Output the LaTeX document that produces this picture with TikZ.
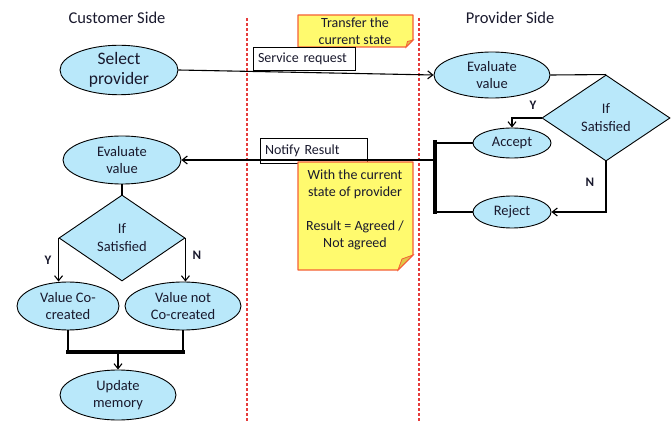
\documentclass[tikz,border=0pt]{standalone}
\usepackage{fontspec}
\setmainfont{Carlito}
\usetikzlibrary{arrows.meta,shapes.geometric,positioning}

\definecolor{procblue}{RGB}{185,232,250}
\definecolor{notefill}{RGB}{255,250,110}
\definecolor{notefold}{RGB}{225,200,70}
\definecolor{noteline}{RGB}{245,95,55}
\definecolor{lanered}{RGB}{230,60,60}
\definecolor{ink}{RGB}{25,25,45}

\begin{document}
\begin{tikzpicture}[x=1pt,y=-1pt,text=ink,
  proc/.style={ellipse,draw,line width=0.9pt,fill=procblue,inner sep=0pt,
    align=center,font=\fontsize{14.5}{17}\selectfont},
  choice/.style={diamond,draw,line width=0.9pt,fill=procblue,inner sep=0pt,
    aspect=1.47,minimum width=126pt,minimum height=86pt,align=center,
    font=\fontsize{14.5}{18}\selectfont},
  link/.style={line width=1.1pt},
  arr/.style={line width=1.1pt,-{Straight Barb[length=5pt,width=8pt]}},
  bar/.style={line width=4.5pt},
  lane/.style={lanered,line width=1.1pt,dash pattern=on 3pt off 2pt},
  msg/.style={draw,fill=white,line width=0.9pt,inner sep=5pt,align=left,
    font=\fontsize{14}{16}\selectfont},
  note/.style={fill=notefill,draw=noteline,line width=1.3pt,line join=round},
  notetext/.style={align=center,font=\fontsize{14}{17}\selectfont},
  yn/.style={font=\bfseries\fontsize{13}{15}\selectfont},
  side/.style={font=\fontsize{16.5}{19}\selectfont}]
  \useasboundingbox (0,0) rectangle (672,422);

  % swim lanes
  \draw[lane] (247,18) -- (247,422);
  \draw[lane] (419,18) -- (419,422);
  \node[side] (cside) at (117,18) {Customer Side};
  \node[side] (pside) at (510,18) {Provider Side};

  % customer side
  \node[proc,minimum width=118pt,minimum height=48pt,
    font=\fontsize{17.5}{20}\selectfont] (selp) at (119,70) {Select\\provider};
  \node[proc,minimum width=118pt,minimum height=48pt] (cev) at (122,160) {Evaluate\\value};
  \node[choice] (cdec) at (122,238) {If\\Satisfied};
  \node[proc,minimum width=102pt,minimum height=48pt] (vcc) at (68,306) {Value Co-\\created};
  \node[proc,minimum width=116pt,minimum height=48pt] (vnc) at (183,306) {Value not\\Co-created};
  \node[proc,minimum width=116pt,minimum height=50pt] (upd) at (118,395) {Update\\memory};
  \coordinate (cbar) at (118,352);

  % provider side
  \node[proc,minimum width=116pt,minimum height=46pt] (pev) at (492,75) {Evaluate\\value};
  \node[choice,minimum width=128pt] (pdec) at (606,118) {If\\Satisfied};
  \node[proc,minimum width=78pt,minimum height=30pt] (acc) at (512,143) {Accept};
  \node[proc,minimum width=78pt,minimum height=32pt] (rej) at (512,212) {Reject};
  \coordinate (pbtop) at (435,140);
  \coordinate (pbbot) at (435,214);
  \coordinate (pbmid) at (435,160);

  % messages and notes
  \draw[note] (298,15) -- (413,15) -- (413,40) -- (406,47) -- (298,47) -- cycle;
  \filldraw[fill=notefold,draw=noteline,line width=0.8pt] (406,47) -- (407.5,41.5) -- (413,40) -- cycle;
  \node[notetext] (tnote) at (355,31) {Transfer the\\current state};
  \node[msg,text width=92pt,minimum height=23pt] (sreq) at (304,58.5) {Service request};

  \node[msg,text width=97pt,minimum height=25pt] (nres) at (313.5,150.5) {Notify Result};
  \draw[note] (298,162) -- (413,162) -- (413,255) -- (398,270) -- (298,270) -- cycle;
  \filldraw[fill=notefold,draw=noteline,line width=0.8pt] (398,270) -- (402,259) -- (413,255) -- cycle;
  \node[notetext] (rnote) at (355,210) {With the current\\state of provider\\[17pt]Result = Agreed /\\Not agreed};

  % connectors, customer side
  \draw[arr] (selp.east) -- (pev.west);
  \draw[link] (cev.south) -- (cdec.north);
  \draw[arr] (cdec.west) -- (vcc.north -| cdec.west);
  \draw[arr] (cdec.east) -- (vnc.north -| cdec.east);
  \node[yn] (cy) at (48,260) {Y};
  \node[yn] (cn) at (197,255) {N};
  \draw[link] (vcc.south) -- (vcc.south |- cbar);
  \draw[link] (vnc.south) -- (vnc.south |- cbar);
  \draw[bar] (vcc.south |- cbar) ++(-2,0) -- ([xshift=2pt]vnc.south |- cbar);
  \draw[arr] (cbar) -- (upd.north);

  % connectors, provider side
  \draw[link] (pev.east) -- (pdec.north);
  \draw[arr] (pdec.west) -| (acc.north);
  \draw[arr] (pdec.south) |- (rej.east);
  \node[yn] (py) at (533,105) {Y};
  \node[yn] (pn) at (590,182) {N};
  \draw[link] (acc.west) -- (acc.west -| pbtop);
  \draw[link] (rej.west) -- (rej.west -| pbtop);
  \draw[bar] (pbtop) -- (pbbot);
  \draw[arr] (pbmid) -- (cev.east);
\end{tikzpicture}
\end{document}
